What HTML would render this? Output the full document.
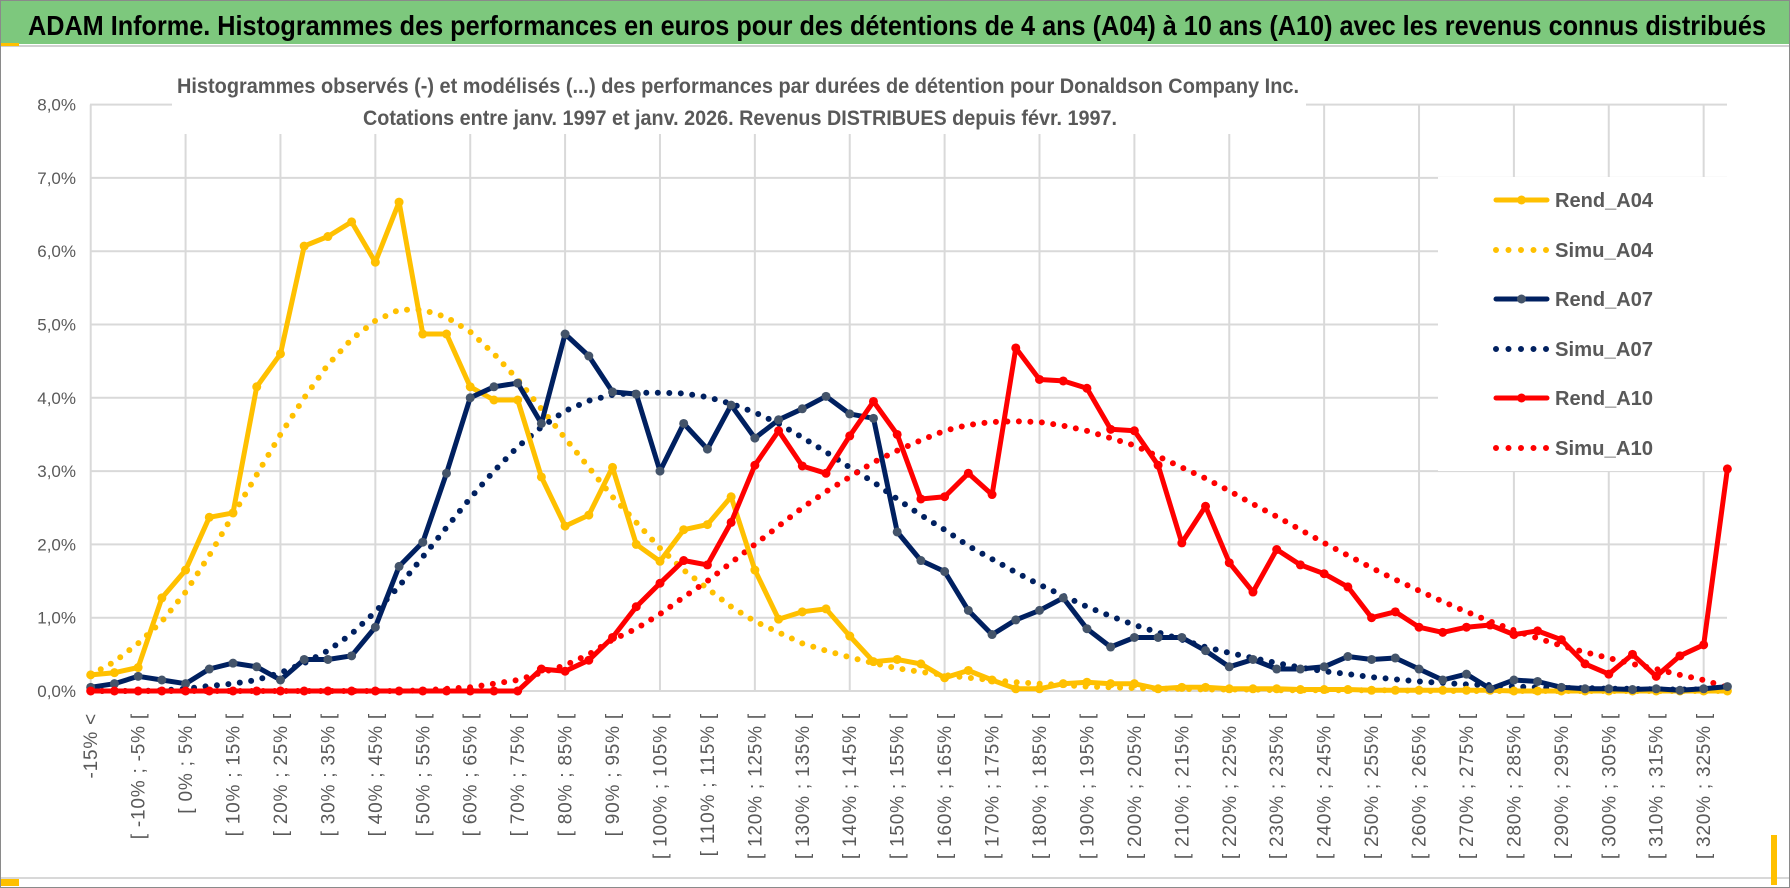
<!DOCTYPE html>
<html><head><meta charset="utf-8">
<style>
html,body{margin:0;padding:0;background:#fff;}
svg{display:block;font-family:"Liberation Sans",sans-serif;}
</style></head>
<body>
<svg id="chart" width="1790" height="888" viewBox="0 0 1790 888">
  <rect x="0.5" y="0.5" width="1789" height="887" fill="#fff" stroke="#8a8a8a"/>
  <rect x="1" y="1" width="1788" height="43" fill="#7DC87D"/>
  <line x1="1" y1="46" x2="1789" y2="46" stroke="#d0d0d0" stroke-width="2"/>
  <rect x="1" y="43" width="18" height="3" fill="#FFC000"/>
  <text x="28" y="35" font-size="28" font-weight="bold" fill="#000" textLength="1738" lengthAdjust="spacingAndGlyphs">ADAM Informe. Histogrammes des performances en euros pour des détentions de 4 ans (A04) à 10 ans (A10) avec les revenus connus distribués</text>
  <line x1="1" y1="878" x2="1789" y2="878" stroke="#d8d8d8" stroke-width="2"/>
  <rect x="1" y="879" width="18" height="7" fill="#FFC000"/>
  <rect x="1771" y="835" width="6" height="50" fill="#FFC000"/>
  <g id="grid"></g>
  <g id="yaxis"></g>
  <g id="xaxis"></g>
  <rect x="172" y="62" width="1134" height="72" fill="#fff"/>
  <text x="177" y="93" font-size="21" font-weight="bold" fill="#595959" textLength="1122" lengthAdjust="spacingAndGlyphs">Histogrammes observés (-) et modélisés (...) des performances par durées de détention pour Donaldson Company Inc.</text>
  <text x="363" y="125" font-size="21" font-weight="bold" fill="#595959" textLength="754" lengthAdjust="spacingAndGlyphs">Cotations entre janv. 1997 et janv. 2026. Revenus DISTRIBUES depuis févr. 1997.</text>
  <rect x="1438" y="177" width="300" height="294" fill="#fff"/>
  <g id="series"></g>
  <g id="legend"></g>
</svg>
<script>
const rendA04 = [0.22,0.25,0.32,1.27,1.65,2.37,2.43,4.15,4.6,6.07,6.2,6.4,5.85,6.67,4.87,4.87,4.15,3.97,3.97,2.92,2.25,2.4,3.05,2.0,1.77,2.2,2.27,2.65,1.65,0.98,1.08,1.12,0.75,0.4,0.43,0.37,0.18,0.28,0.15,0.03,0.03,0.1,0.12,0.1,0.1,0.03,0.05,0.05,0.03,0.03,0.03,0.02,0.02,0.02,0.01,0.01,0.01,0.01,0.01,0.01,0,0,0,0,0,0,0,0,0,0];
const simuA04 = [0.22,0.4,0.65,0.95,1.35,1.85,2.4,2.95,3.5,4.0,4.45,4.8,5.05,5.2,5.2,5.1,4.9,4.6,4.25,3.85,3.45,3.05,2.65,2.3,1.95,1.65,1.4,1.15,0.95,0.8,0.65,0.55,0.46,0.38,0.31,0.26,0.22,0.18,0.15,0.12,0.1,0.08,0.06,0.05,0.04,0.03,0.03,0.02,0.02,0.02,0.01,0.01,0.01,0.01,0.01,0.01,0,0,0,0,0,0,0,0,0,0,0,0,0,0];
const rendA07 = [0.05,0.1,0.2,0.15,0.1,0.3,0.38,0.33,0.15,0.43,0.43,0.48,0.87,1.7,2.03,2.97,4.0,4.15,4.2,3.65,4.87,4.57,4.08,4.05,3.0,3.65,3.3,3.9,3.45,3.7,3.85,4.02,3.78,3.72,2.17,1.78,1.63,1.1,0.77,0.97,1.1,1.27,0.85,0.6,0.73,0.73,0.73,0.55,0.33,0.43,0.3,0.3,0.33,0.47,0.43,0.45,0.3,0.15,0.23,0.03,0.15,0.13,0.05,0.03,0.03,0.02,0.03,0.01,0.03,0.06];
const simuA07 = [0,0,0,0.01,0.03,0.07,0.1,0.15,0.25,0.38,0.55,0.78,1.08,1.43,1.83,2.23,2.63,3.0,3.33,3.6,3.82,3.96,4.04,4.07,4.07,4.06,4.01,3.92,3.8,3.65,3.46,3.26,3.05,2.85,2.62,2.4,2.2,1.98,1.8,1.62,1.45,1.3,1.15,1.02,0.9,0.8,0.7,0.6,0.52,0.45,0.38,0.32,0.27,0.23,0.19,0.16,0.13,0.11,0.09,0.08,0.06,0.05,0.04,0.04,0.03,0.03,0.02,0.02,0.02,0.01];
const rendA10 = [0,0,0,0,0,0,0,0,0,0,0,0,0,0,0,0,0,0,0,0.3,0.27,0.42,0.73,1.15,1.47,1.78,1.72,2.3,3.08,3.55,3.07,2.97,3.48,3.95,3.5,2.62,2.65,2.97,2.68,4.68,4.25,4.23,4.13,3.57,3.55,3.08,2.02,2.52,1.75,1.35,1.93,1.72,1.6,1.42,1.0,1.08,0.87,0.8,0.87,0.9,0.77,0.82,0.7,0.37,0.23,0.5,0.2,0.48,0.63,3.03];
const simuA10 = [0,0,0,0,0,0,0,0,0,0,0,0,0,0,0.01,0.03,0.05,0.1,0.15,0.25,0.35,0.5,0.7,0.85,1.05,1.28,1.5,1.75,2.0,2.25,2.5,2.72,2.92,3.12,3.28,3.42,3.55,3.63,3.67,3.68,3.67,3.62,3.55,3.45,3.35,3.2,3.05,2.9,2.73,2.55,2.38,2.2,2.02,1.85,1.68,1.52,1.37,1.22,1.08,0.95,0.83,0.72,0.62,0.53,0.45,0.37,0.3,0.22,0.15,0.05];
const yTicks = [0,1,2,3,4,5,6,7,8];
const yTickLabels = ["0,0%","1,0%","2,0%","3,0%","4,0%","5,0%","6,0%","7,0%","8,0%"];
const seriesNames = ["Rend_A04","Simu_A04","Rend_A07","Simu_A07","Rend_A10","Simu_A10"];

const NS = "http://www.w3.org/2000/svg";
const N = rendA04.length;
const X0 = 90.7, DX = 23.72, Y0 = 691, DY = 73.3;
const xPos = i => X0 + i * DX;
const yPos = v => Y0 - v * DY;
function mk(tag, attrs, parent){ const e=document.createElementNS(NS,tag); for(const k in attrs) e.setAttribute(k, attrs[k]); parent.appendChild(e); return e; }
function catLabel(i){ if(i===0) return "-15% <"; const a=5*i-20; return "[ "+a+"% ; "+(a+5)+"% ["; }

const grid = document.getElementById('grid');
yTicks.forEach((t,k)=>{
  const l = mk('line',{x1:90,x2:1727,y1:yPos(t),y2:yPos(t),stroke:'#d9d9d9','stroke-width':2},grid);
  
  
});
for(let i=0;i<N;i+=4){
  const l = mk('line',{x1:xPos(i),x2:xPos(i),y1:yPos(8),y2:Y0,stroke:'#d9d9d9','stroke-width':2},grid);
  
  
}
const yaxis = document.getElementById('yaxis');
yTicks.forEach((t,k)=>{
  const tx = mk('text',{x:76,y:yPos(t)+6,'text-anchor':'end','font-size':17,fill:'#595959'},yaxis);
  tx.textContent = yTickLabels[k];
  
  
});
const xaxis = document.getElementById('xaxis');
for(let i=0;i<N;i+=2){
  const x = xPos(i)+6.5, y = 713;
  const tx = mk('text',{x:x,y:y,'text-anchor':'end','font-size':19,'letter-spacing':0.8,fill:'#595959',transform:`rotate(-90 ${x} ${y})`},xaxis);
  tx.textContent = catLabel(i);
  
  
}

const defs = [
  {name:'rend-a04', data:rendA04, color:'#FFC000', marker:'#FFC000', dotted:false},
  {name:'simu-a04', data:simuA04, color:'#FFC000', dotted:true},
  {name:'rend-a07', data:rendA07, color:'#002060', marker:'#44546A', dotted:false},
  {name:'simu-a07', data:simuA07, color:'#002060', dotted:true},
  {name:'rend-a10', data:rendA10, color:'#FF0000', marker:'#FF0000', dotted:false},
  {name:'simu-a10', data:simuA10, color:'#FF0000', dotted:true}
];
const order = [1,3,5,0,2,4];
const sg = document.getElementById('series');
order.forEach(j=>{
  const s = defs[j];
  const pts = s.data.map((v,i)=>xPos(i).toFixed(1)+','+yPos(v).toFixed(1)).join(' ');
  const attrs = {points:pts,fill:'none',stroke:s.color,'stroke-width':5,'stroke-linejoin':'round','stroke-linecap':'round'};
  if(s.dotted){ attrs['stroke-dasharray']='0 11.5'; attrs['stroke-width']=6; }
  const pl = mk('polyline',attrs,sg);
  
  
  if(!s.dotted){
    s.data.forEach((v,i)=>{
      const c = mk('circle',{cx:xPos(i),cy:yPos(v),r:4.5,fill:s.marker},sg);
      
      
    });
  }
});

const lg = document.getElementById('legend');
const ly = [200,250,299,349,398,448];
defs.forEach((s,k)=>{
  const y = ly[k];
  const g = mk('g',{},lg);
  
  
  const a = {x1:1496,x2:1547,y1:y,y2:y,stroke:s.color,'stroke-width':s.dotted?6:5,'stroke-linecap':'round'};
  if(s.dotted) a['stroke-dasharray']='0 12.5';
  mk('line',a,g);
  if(!s.dotted) mk('circle',{cx:1521.5,cy:y,r:4.5,fill:s.marker},g);
  const t = mk('text',{x:1555,y:y+7,'font-size':20,'font-weight':'bold',fill:'#595959',textLength:98,lengthAdjust:'spacingAndGlyphs'},g);
  t.textContent = seriesNames[k];
});
</script>
</body></html>
